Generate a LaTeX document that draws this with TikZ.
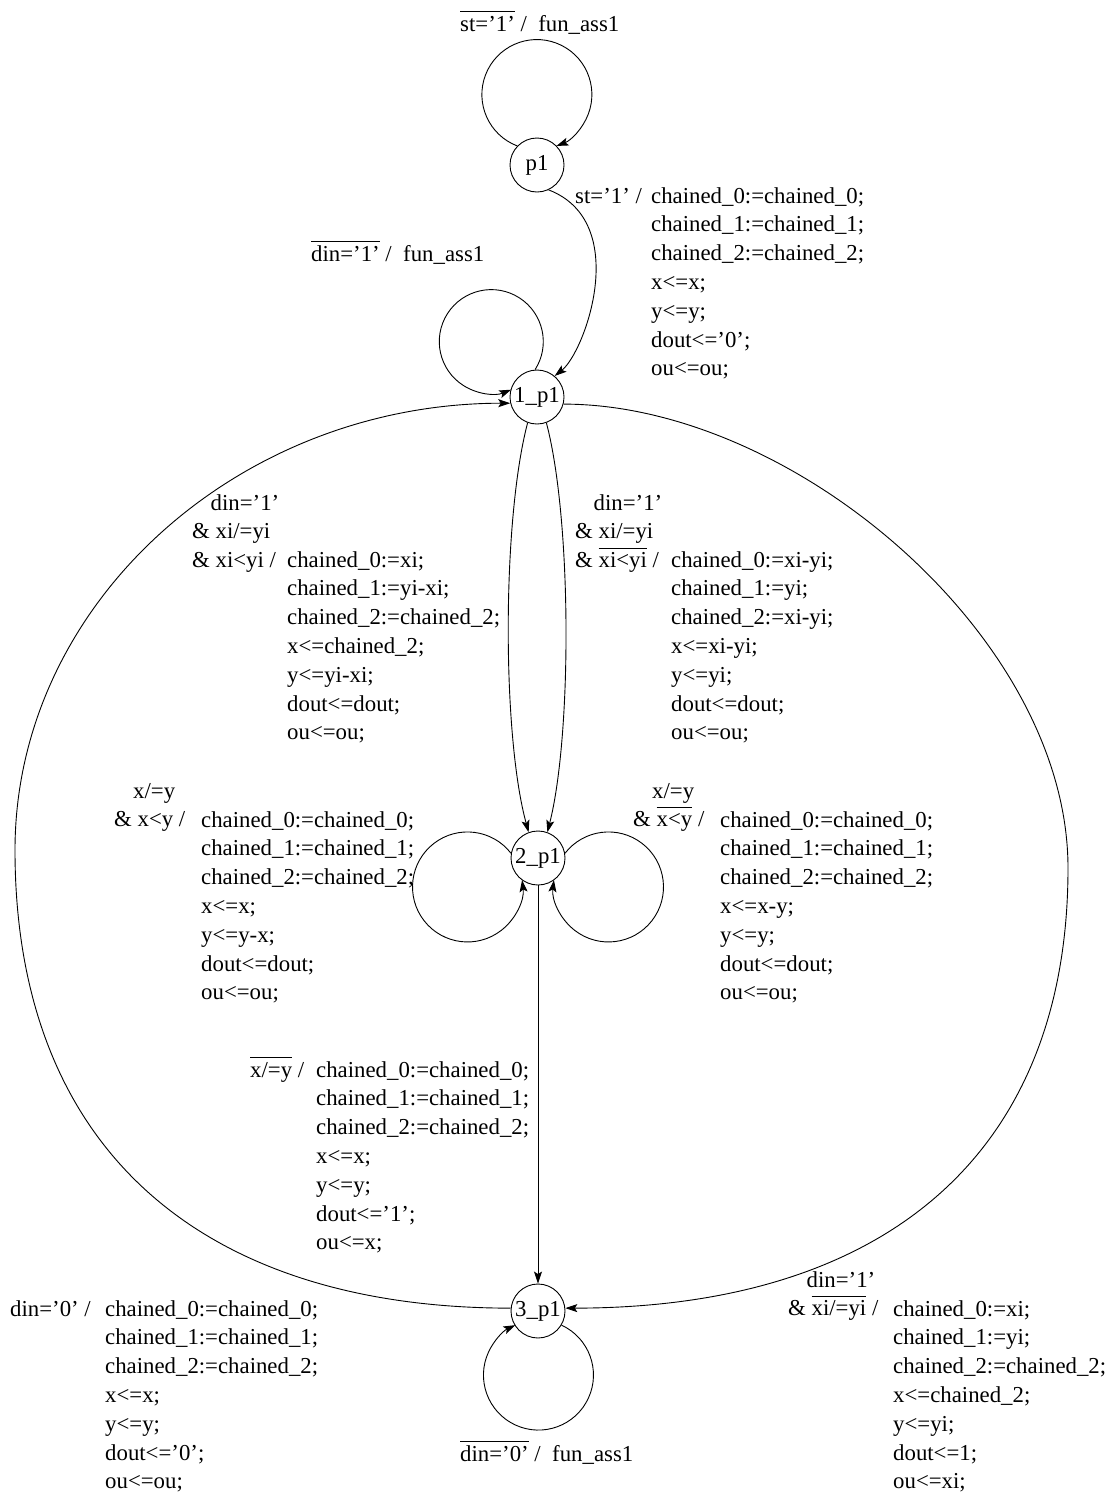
\documentclass[tikz,border=0pt]{standalone}
\usepackage{fontspec}
\setmainfont{Liberation Serif}
\usetikzlibrary{arrows.meta}
\newcommand\ovbar[1]{\setbox0=\hbox{#1}\rlap{\rule[19pt]{\wd0}{0.8pt}}\box0\relax}
\newcommand\txtlines[1]{\begin{tabular}[t]{@{}l@{}}#1\end{tabular}}
\begin{document}
\begin{tikzpicture}[x=1pt,y=1pt,
  every node/.style={font=\fontsize{22.8}{28.8}\selectfont},
  state/.style={draw, circle, minimum size=54pt, inner sep=0pt, line width=0.9pt},
  tr/.style={line width=0.9pt, -{Stealth[length=12pt,width=8pt,inset=2.5pt]}},
  lbl/.style={anchor=base west, inner sep=0pt}]
\useasboundingbox (0,0) rectangle (1112,-1494);

% states
\node[state] (p1) at (537,-165) {p1};
\node[state] (s1) at (537,-397) {1\_p1};
\node[state] (s2) at (538,-858) {2\_p1};
\node[state] (s3) at (538,-1311) {3\_p1};

% transitions
\draw[tr] (p1.136.5) arc[start angle=249.1, end angle=-69.1, radius=55pt];
\draw[tr] (p1.-65) .. controls (632,-222) and (585,-352) .. (s1.50);
\draw[tr] (s1.94.7) arc[start angle=-32.6, end angle=292.4, radius=52pt];
\draw[tr] (s1.250) .. controls (502,-520) and (502,-735) .. (s2.110);
\draw[tr] (s1.290) .. controls (572,-520) and (572,-735) .. (s2.70);
\draw[tr] (s1.-15) .. controls (793,-404) and (1068,-637.5) .. (1068,-868)
          .. controls (1068,-1150) and (890,-1308) .. (s3.6);
\draw[tr] (s3.174) .. controls (200,-1308) and (15,-1147.7) .. (15,-850)
          .. controls (15,-604.7) and (236.6,-403.5) .. (s1.193);
\draw[tr] (s2.170) arc[start angle=37.8, end angle=367.2, radius=55pt];
\draw[tr] (s2.10) arc[start angle=142.2, end angle=-187.2, radius=55pt];
\draw[tr] (s2) -- (s3);
\draw[tr] (s3.-31.4) arc[start angle=65.2, end angle=-245.2, radius=55pt];

% loop labels
\node[lbl] (lt1) at (460,-31) {\ovbar{st='1'} /\ \ fun\_ass1};
\node[lbl] (lt2) at (311,-261) {\ovbar{din='1'} /\ \ fun\_ass1};
\node[lbl] (lt3) at (460,-1461) {\ovbar{din='0'} /\ \ fun\_ass1};

% p1 -> 1_p1
\node[lbl] (ca) at (575,-203) {st='1' /};
\node[lbl] (aa) at (651,-203) {\txtlines{chained\_0:=chained\_0;\\chained\_1:=chained\_1;\\chained\_2:=chained\_2;\\x<=x;\\y<=y;\\dout<='0';\\ou<=ou;}};

% 1_p1 -> 2_p1 (left)
\node[lbl] (cb) at (192,-510) {\txtlines{\hspace{18.5pt}din='1'\\\& xi/=yi\\\& xi<yi /}};
\node[lbl] (ab) at (287,-567) {\txtlines{chained\_0:=xi;\\chained\_1:=yi-xi;\\chained\_2:=chained\_2;\\x<=chained\_2;\\y<=yi-xi;\\dout<=dout;\\ou<=ou;}};

% 1_p1 -> 2_p1 (right)
\node[lbl] (cc) at (575,-510) {\txtlines{\hspace{18.5pt}din='1'\\\& xi/=yi\\\& \ovbar{xi<yi} /}};
\node[lbl] (ac) at (671,-567) {\txtlines{chained\_0:=xi-yi;\\chained\_1:=yi;\\chained\_2:=xi-yi;\\x<=xi-yi;\\y<=yi;\\dout<=dout;\\ou<=ou;}};

% 2_p1 left loop
\node[lbl] (cd) at (114,-798) {\txtlines{\hspace{19pt}x/=y\\\& x<y /}};
\node[lbl] (ad) at (201,-827) {\txtlines{chained\_0:=chained\_0;\\chained\_1:=chained\_1;\\chained\_2:=chained\_2;\\x<=x;\\y<=y-x;\\dout<=dout;\\ou<=ou;}};

% 2_p1 right loop
\node[lbl] (ce) at (633,-798) {\txtlines{\hspace{19pt}x/=y\\\& \ovbar{x<y} /}};
\node[lbl] (ae) at (720,-827) {\txtlines{chained\_0:=chained\_0;\\chained\_1:=chained\_1;\\chained\_2:=chained\_2;\\x<=x-y;\\y<=y;\\dout<=dout;\\ou<=ou;}};

% 2_p1 -> 3_p1
\node[lbl] (cf) at (250,-1077) {\ovbar{x/=y} /};
\node[lbl] (af) at (316,-1077) {\txtlines{chained\_0:=chained\_0;\\chained\_1:=chained\_1;\\chained\_2:=chained\_2;\\x<=x;\\y<=y;\\dout<='1';\\ou<=x;}};

% 3_p1 -> 1_p1
\node[lbl] (cg) at (10,-1316) {din='0' /};
\node[lbl] (ag) at (105,-1316) {\txtlines{chained\_0:=chained\_0;\\chained\_1:=chained\_1;\\chained\_2:=chained\_2;\\x<=x;\\y<=y;\\dout<='0';\\ou<=ou;}};

% 1_p1 -> 3_p1
\node[lbl] (ch) at (788,-1287) {\txtlines{\hspace{18.5pt}din='1'\\\& \ovbar{xi/=yi} /}};
\node[lbl] (ah) at (893,-1316) {\txtlines{chained\_0:=xi;\\chained\_1:=yi;\\chained\_2:=chained\_2;\\x<=chained\_2;\\y<=yi;\\dout<=1;\\ou<=xi;}};
\end{tikzpicture}
\end{document}
